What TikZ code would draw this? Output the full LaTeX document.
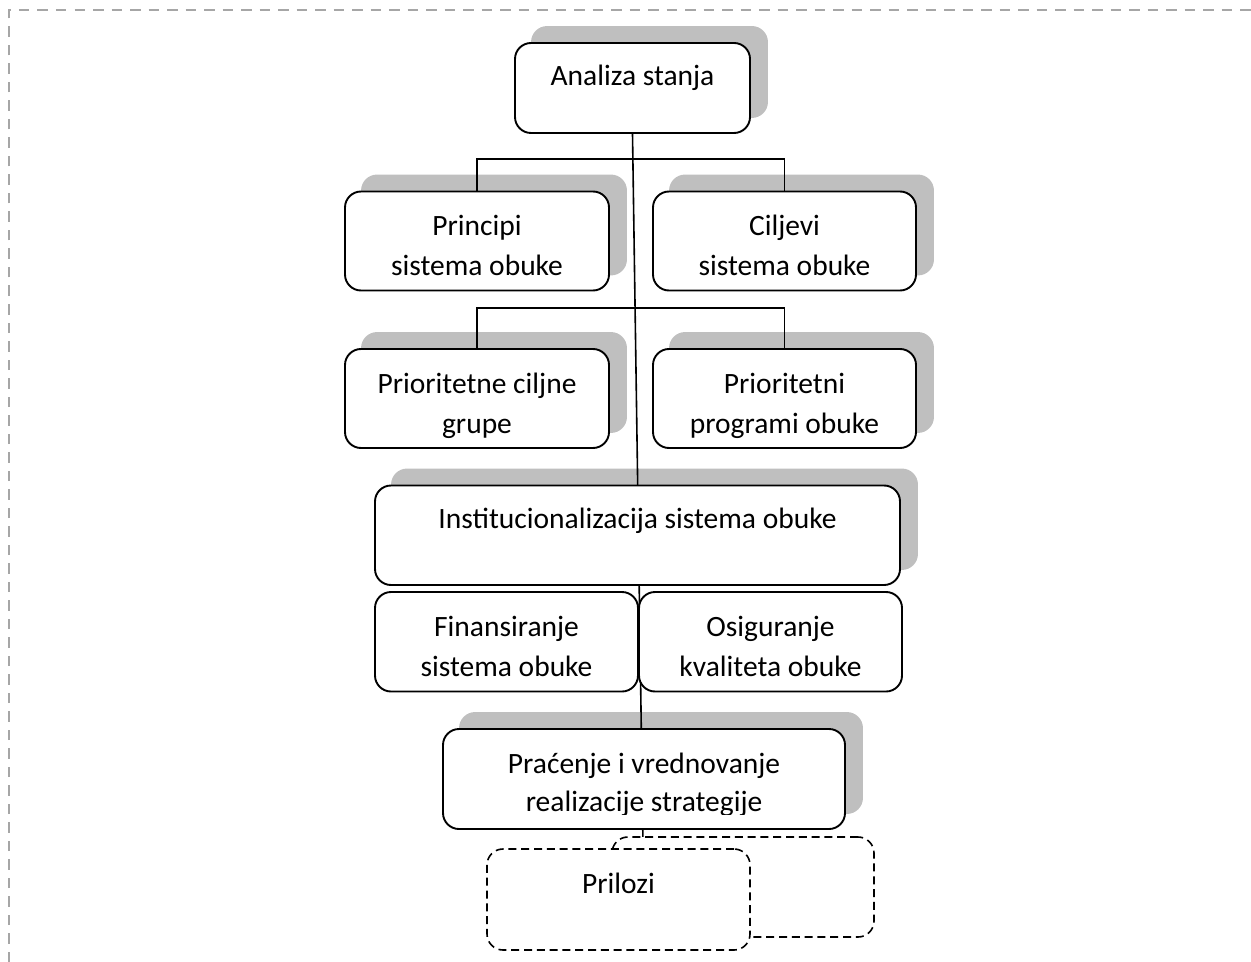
\documentclass[tikz,border=0pt]{standalone}
\usepackage{fontspec}
\setmainfont{Carlito}
\usetikzlibrary{fit,calc}
\definecolor{shadowgray}{HTML}{BFBFBF}
\definecolor{framegray}{HTML}{A6A6A6}
\pgfdeclarelayer{shadowlayer}
\pgfdeclarelayer{linelayer}
\pgfsetlayers{shadowlayer,linelayer,main}
\begin{document}
\begin{tikzpicture}[x=0.5pt,y=-0.5pt,
  box/.style={draw=black, fill=white, line width=0.95pt, rounded corners=8pt, inner sep=0pt},
  dbox/.style={draw=black, fill=white, line width=0.8pt, dash pattern=on 4pt off 2.4pt, rounded corners=8pt, inner sep=0pt},
  shade/.style={fill=shadowgray, rounded corners=8pt},
  txt/.style={anchor=base, inner sep=0pt, font=\fontsize{14.75pt}{19.75pt}\selectfont},
  conn/.style={draw=black, line width=0.8pt},
  pageframe/.style={draw=framegray, line width=0.75pt, dash pattern=on 5.25pt off 4pt}]
\useasboundingbox (0,0) rectangle (1251,962);
\draw[pageframe] (9,962) -- (9,10) -- (1251,10);

% boxes
\node[box, fit={(515,43) (750,133)}] (a) {};
\node[txt] (at) at (632.5,86) {Analiza stanja};

\node[box, fit={(345,191.5) (609,290.5)}] (p) {};
\node[txt] (pt1) at (477,236) {Principi};
\node[txt] (pt2) at (477,275.5) {sistema obuke};

\node[box, fit={(653,191.5) (916,290.5)}] (c) {};
\node[txt] (ct1) at (784.5,236) {Ciljevi};
\node[txt] (ct2) at (784.5,275.5) {sistema obuke};

\node[box, fit={(345,349) (609,448)}] (g) {};
\node[txt] (gt1) at (477,393.5) {Prioritetne ciljne};
\node[txt] (gt2) at (477,433) {grupe};

\node[box, fit={(653,349) (916,448)}] (r) {};
\node[txt] (rt1) at (784.5,393.5) {Prioritetni};
\node[txt] (rt2) at (784.5,433) {programi obuke};

\node[box, fit={(375,485.5) (900,585)}] (i) {};
\node[txt] (it) at (637.5,528.5) {Institucionalizacija sistema obuke};

\node[box, fit={(375,592) (638,691.5)}] (f) {};
\node[txt] (ft1) at (506.5,636.5) {Finansiranje};
\node[txt] (ft2) at (506.5,676) {sistema obuke};

\node[box, fit={(639,592) (902,691.5)}] (o) {};
\node[txt] (ot1) at (770.5,636.5) {Osiguranje};
\node[txt] (ot2) at (770.5,676) {kvaliteta obuke};

\node[box, fit={(443,729) (845,829)}] (m) {};
\begin{scope}
  \clip (443,729) rectangle (845,814);
  \node[txt] (mt1) at (644,773) {Praćenje i vrednovanje};
  \node[txt] (mt2) at (644,811) {realizacije strategije};
\end{scope}

\node[dbox, fit={(612,837) (874,937)}] (d2) {};
\node[dbox, fit={(487,849) (750,950)}] (d1) {};
\node[txt] (dt) at (618.5,893) {Prilozi};

\coordinate (lineend) at (643,845);

% shadows
\begin{pgfonlayer}{shadowlayer}
\foreach \n in {a,p,c,g,r,i,m}{
  \fill[shade] ($(\n.north west)+(17,-16)$) rectangle ($(\n.south east)+(17,-16)$);
}
\end{pgfonlayer}

% connectors
\begin{pgfonlayer}{linelayer}
\draw[conn] (a.south) -- (lineend);
\draw[conn] (p.north) -- ++(0,-31.5) -| (c.north);
\draw[conn] (g.north) -- ++(0,-40) -| (r.north);
\end{pgfonlayer}
\end{tikzpicture}
\end{document}
